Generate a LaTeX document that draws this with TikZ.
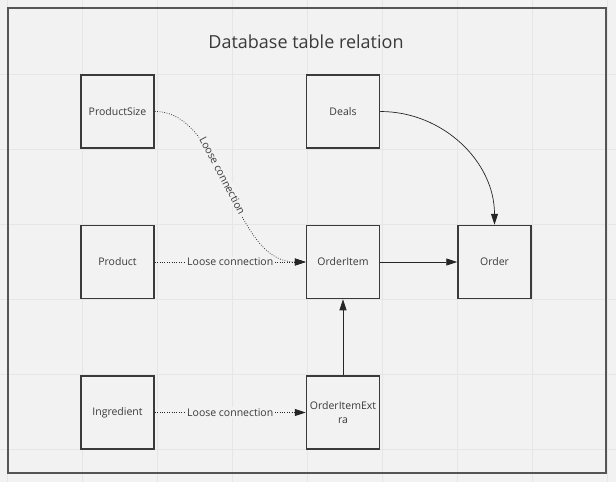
\documentclass[tikz,border=0pt]{standalone}
\usepackage{fontspec}
\setmainfont{Open Sans}
\usetikzlibrary{arrows.meta, positioning}
\definecolor{canvas}{HTML}{F2F2F2}
\definecolor{gridline}{HTML}{E6E6E6}
\definecolor{framegray}{HTML}{555555}
\definecolor{ink}{HTML}{3A3A3A}

\begin{document}
\begin{tikzpicture}[x=1pt, y=-1pt,
    box/.style={rectangle, draw=ink, line width=1.5pt, fill=canvas, minimum size=73pt, inner sep=2pt, align=center, font=\fontsize{10.5}{13.5}\selectfont, text=ink},
    arrow/.style={-{Triangle[length=11pt, width=7pt]}, draw=black!85, line width=0.7pt},
    loose/.style={arrow, dash pattern=on 0.8pt off 1.6pt},
    lbl/.style={fill=canvas, inner sep=1.5pt, font=\fontsize{10.5}{12}\selectfont, text=ink}
]
    % canvas, grid and frame
    \fill[canvas] (0,0) rectangle (616,482);
    \useasboundingbox (0,0) rectangle (616,482);
    \foreach \gx in {7,82,...,607} \draw[gridline, line width=0.8pt] (\gx,0) -- (\gx,482);
    \foreach \gy in {74,149,...,449} \draw[gridline, line width=0.8pt] (0,\gy) -- (616,\gy);
    \draw[framegray, line width=2.5pt] (8,8) rectangle (606,473);

    \node[font=\fontsize{18}{21}\selectfont, text=ink] (title) at (306,42) {Database table relation};

    % tables
    \node[box] (productsize) at (117.5,111.5) {ProductSize};
    \node[box, below=76pt of productsize] (product) {Product};
    \node[box, below=76pt of product] (ingredient) {Ingredient};
    \node[box, right=151pt of product] (orderitem) {OrderItem};
    \node[box, above=76pt of orderitem] (deals) {Deals};
    \node[box, below=76pt of orderitem] (orderitemextra) {OrderItemExt\\ra};
    \node[box, right=77pt of orderitem] (order) {Order};

    % relations
    \draw[loose] (productsize.east) .. controls +(70,0) and +(-75,0) .. node[lbl, sloped, pos=0.45] {Loose connection} (orderitem.west);
    \draw[loose] (product) -- node[lbl] {Loose connection} (orderitem);
    \draw[loose] (ingredient) -- node[lbl] {Loose connection} (orderitemextra);
    \draw[arrow] (orderitem) -- (order);
    \draw[arrow] (orderitemextra) -- (orderitem);
    \draw[arrow] (deals.east) to[out=0, in=90] (order.north);
\end{tikzpicture}
\end{document}
